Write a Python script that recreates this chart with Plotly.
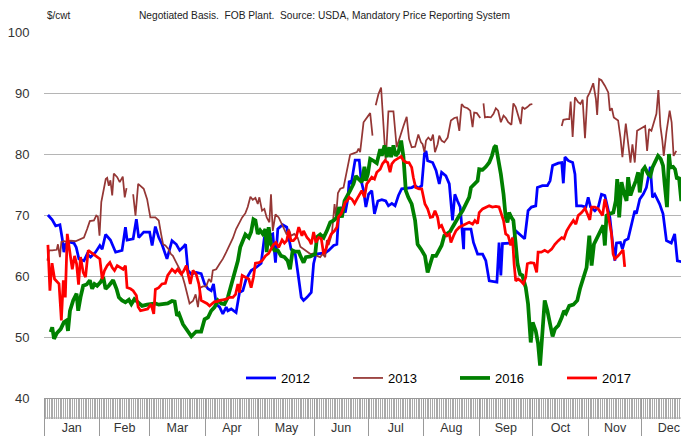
import datetime as dt
import plotly.graph_objects as go

YEAR_START = dt.datetime(2017, 1, 1)

# ---- data: day-of-year and $/cwt ----
days_2012 = [3.2,5.6,7.5,9.9,11.2,12.1,13,14.9,17.7,19,20.5,23.3,25.1,27,29.8,32.2,33.5,35.4,38.1,41,44.6,46.5,47.4,50.8,52.6,53.9,56.7,60,61.4,63.2,65.1,66.9,69.7,72.5,74.9,76.8,78.6,80.1,81.4,83.3,86,88.8,90.7,92.6,94.4,95.7,97.2,99.1,100.9,102.8,103.7,105.6,108.3,110.2,112.1,113.9,116.7,119.5,122.3,124.1,126.9,128.8,130.3,131.6,134.3,136.6,139,141.4,143.3,144.7,146,147.9,150.3,151.6,152.9,155.3,158.1,160,162.8,164.6,165.5,167.4,169.3,170.7,171.5,172.6,173.9,174.8,177.1,178.2,179.5,180.8,182.3,184.1,185.6,187.5,189.7,191.9,193.4,195.3,197.1,199,200.8,203.6,206.4,208.3,210.1,212,213.5,214.4,215.3,218.1,220,221.8,223.1,225.5,227.4,229.2,230.5,232,233.5,235.4,235.7,237.6,239.5,240.9,243.2,246,247.8,249.7,251.5,254,255.2,256.2,257.1,260.3,262.7,264.5,267.3,269.5,271.4,273.3,275.7,276.6,279.4,282.2,283.7,285.1,288.3,290.2,291.1,292,293.9,296.3,297.6,298.5,301.3,303.7,305,306.3,308.7,310.6,312.4,314.3,315.8,317.1,318.6,319.9,320.8,323,324.1,325.4,327.3,329.2,331,331.9,333.8,335.7,337.5,339.7,340.9,342.2,344.9,346.8,348.7,351.4,353.3,354.8,357.9,360.4]
vals_2012 = [70.0,69.2,68.2,68.4,66.1,63.9,65.2,65.6,65.4,64.7,62.8,62.5,63.6,63.1,63.9,65.0,64.4,66.8,65.9,63.9,64.2,68.0,65.9,66.1,69.3,66.3,67.2,67.2,65.0,68.1,66.3,65.2,62.8,65.8,65.2,64.2,64.7,65.2,60.9,60.3,60.6,60.4,58.7,57.9,57.6,58.7,55.4,54.9,53.8,54.9,54.3,54.6,54.0,57.3,57.6,59.5,60.9,61.4,62.1,66.3,66.6,66.9,62.2,67.7,68.4,68.0,64.4,63.5,59.5,56.5,56.0,56.5,57.3,62.0,63.6,63.7,63.8,64.2,65.0,65.2,69.6,71.3,70.4,72.6,75.6,75.1,77.8,79.0,79.0,75.6,74.0,71.3,73.4,74.0,70.2,72.3,72.5,72.3,71.5,71.9,71.5,73.2,74.3,74.4,74.5,74.8,74.4,74.8,80.0,80.5,78.9,78.6,77.3,75.1,77.0,76.4,75.1,69.1,73.4,72.3,71.3,64.4,67.7,67.7,67.7,65.5,63.6,63.6,62.5,59.2,59.1,59.0,65.5,60.1,65.3,65.3,65.4,67.4,66.6,66.1,70.7,71.3,71.5,74.5,74.8,74.8,75.6,78.1,78.5,78.6,75.2,79.5,78.9,78.6,76.7,71.5,71.5,71.3,72.9,71.3,70.7,71.3,73.4,73.2,71.3,69.6,65.5,62.5,65.4,65.5,64.4,65.8,66.1,68.3,70.7,70.2,72.6,73.4,74.5,77.9,72.9,73.4,71.8,70.2,65.8,65.4,66.9,62.5,62.3,62.3]

days_2013 = [2.9,3.8,5.6,8.1,8.8,9.9,10.7,12.1,14,15.9,18.6,21.4,23.3,25.1,26.6,28.9,30.2,31.1,32,33,34.4,35.5,36.3,37.2,38.1,39.1,40,41.9,43.3,45,46.1,47.1,49,50.8,52.1,53.6,54.9,56.7,58.6,60.4,63.2,65.1,66.4,67.5,68.8,70.6,71.9,73,74.9,77.7,79.6,81.4,82.3,84.2,85.7,87,88.3,89.8,91.6,93.1,94.4,95.3,97.2,99.1,100.9,102.8,104.6,106.5,108.3,110.2,111.7,113.5,114.8,116.3,117.6,119.1,120.4,121.3,122.8,124.1,125.4,126.9,127.8,128.8,130.3,132.1,134,135.3,136.6,137.7,139,140.8,142.7,144.2,147,149.8,151.6,153.5,155.3,156.6,158.1,159,160,161.8,163.3,164.1,165.2,166.5,168.3,169.3,170.7,172,173.9,175.8,176.7,177.6,179.5,181.3,183.2,184.5,185.4,186.3,187.8,189.3,190.6,191.9,193.4,196.2,198,200.5,201.8,203.6,204.9,206.4,208.3,210.1,211.6,212.5,213.5,214.4,215.7,217.2,218.3,219.4,220.9,221.8,223.1,224.6,226.5,228.3,230.2,231.7,233,234.3,235.7,237.6,239.1,240.4,241.3,242.8,244.7,245.6,246.5,247.3,248.7,250.6,252.1,253.4,254.7,256.2,257.7,259,260.3,261.4,262.1,263.2,264.5,265.8,267.3,268.2,269.5,271,272.5,273.8,282,290.2,291.1,293,294.4,295.2,296.3,297.6,299.4,300.7,301.9,303.2,304.5,305.9,307.8,309.3,310,311.1,312.4,314.3,316.2,317.1,318.2,319.3,321.7,323,324.1,326,327.3,328.6,329.7,331,332.3,333.8,335.7,336.8,337.9,339,340.3,341.6,343.1,344.2,345.3,346.4,347.2,348.7,350.5,351.6,352.7,354.2,355.2,356.1,357.6,358.9,360.4]
vals_2013 = [62.5,64.2,64.2,64.3,65.2,63.1,65.6,65.7,65.6,65.8,65.7,66.1,66.3,67.7,69.0,69.1,69.9,69.7,66.6,72.1,74.0,75.9,76.1,74.8,75.7,73.2,76.8,76.2,75.4,76.3,72.9,74.4,None,73.4,69.9,75.1,74.8,74.3,72.6,69.6,69.6,69.1,66.9,65.2,65.0,64.4,63.6,63.3,62.2,60.6,58.7,56.8,55.5,55.9,57.0,54.9,58.1,58.3,58.3,59.5,59.0,60.9,61.1,62.0,62.8,63.9,65.0,66.2,67.7,68.8,69.6,70.3,71.3,73.0,72.5,72.8,71.8,72.9,70.7,71.0,69.6,68.8,73.4,67.4,70.1,69.6,68.5,67.7,66.8,67.7,66.6,66.9,66.3,64.8,64.2,63.6,63.7,63.3,63.1,63.6,63.1,65.9,65.1,66.9,71.8,69.6,73.6,74.3,74.5,75.9,78.1,79.9,80.1,80.3,80.9,80.3,85.2,86.0,86.7,83.0,None,88.0,89.8,90.9,85.4,78.9,87.0,87.0,81.1,83.6,84.6,86.1,82.5,81.1,81.2,83.2,81.9,81.6,80.3,82.2,82.7,82.2,83.2,80.3,81.6,83.0,82.2,81.9,82.7,85.5,85.9,86.0,83.8,88.2,87.7,87.5,87.1,84.4,86.8,86.7,85.9,None,88.3,86.0,86.1,86.0,86.6,87.5,87.1,85.2,86.3,85.9,85.2,84.9,84.8,88.3,87.7,86.4,84.9,87.7,87.4,87.7,88.1,88.2,None,84.6,85.6,85.7,85.7,88.6,82.8,89.3,88.5,88.2,88.9,82.6,89.3,90.1,91.6,89.0,86.4,92.3,92.1,91.2,90.1,87.1,87.5,86.0,85.5,82.7,79.5,85.0,81.6,78.6,81.6,78.6,83.8,84.1,84.4,84.6,80.5,84.1,83.8,85.2,86.6,90.5,84.6,82.2,79.7,83.6,87.1,85.2,79.7,80.5,None,76.2,73.7,75.4,71.3]

days_2016 = [4.7,5.6,6.6,8.1,10.3,12.1,13.6,14.4,15.5,17.3,19.2,20.1,21.4,22.9,24.8,26.6,27.9,29.2,30.7,32.6,34.1,35.4,37.2,39.6,41.5,42.8,44.6,46.5,48.4,49.8,51.5,53.4,55.8,58.6,60.8,63.2,65.1,67.9,70.1,72.5,74,75.3,76.4,78.6,81.4,83.3,84.6,86,88.8,90.7,92.6,94.4,96.3,98.1,100,101.8,103.7,105.6,107.4,109.3,110.6,112.1,113.5,115.4,116.7,118,119.1,120.4,121.7,123.2,124.7,125.4,126.5,127.8,129.7,131.6,133.4,135.3,137.1,138.4,139.9,141.4,143.3,144.2,146,147.3,149.8,152.5,153.5,155.3,157.2,159,160.9,162.8,164.6,165.9,167.4,168.9,170.2,172,173.9,175.2,176.7,177.6,178.5,180,180.8,181.9,183.2,185,186.9,188.8,189.7,191.2,192.5,193.8,194.9,196.2,197.5,199,200.5,201.8,203.1,204.5,206.4,208.3,209.7,211.6,213.8,215.3,216.8,218.1,220,221.8,223.1,224.6,226.1,227.9,229.2,231.1,233,234.8,236.7,238.5,239.5,241.3,243.2,244.1,246,247.8,249.7,251.2,252.5,253.4,254.7,256.2,257.7,258.9,259.9,260.8,262.1,263.2,264.5,265.5,266.9,268.2,270.1,271.4,272.9,274,275.7,277,278.1,279.4,280.7,282.2,283.3,285.1,286.4,288.3,290.2,291.5,292.6,294.4,296.7,298.9,300.4,302.2,304.1,305.6,306.9,308.2,309.7,311.5,313.4,314.3,315.2,317.1,319,320.4,321.2,322.3,323.6,324.9,326.4,327.3,328.6,330.1,331.6,332.9,333.8,335.3,336.6,338.4,339.7,340.9,342.7,344,345.5,346.8,347.7,349,350.1,350.9,352.4,353.5,354.6,355.7,357,358.3,360.4]
vals_2016 = [50.8,51.6,49.7,50.6,51.3,52.4,52.7,51.0,54.3,56.0,57.1,54.3,56.5,58.4,58.6,59.3,57.9,58.7,58.4,59.0,59.8,57.9,58.4,59.3,57.9,56.5,56.0,55.7,56.1,55.4,56.2,55.7,55.1,55.3,55.4,55.5,55.3,55.4,55.5,55.9,55.8,53.5,53.8,52.1,50.8,50.1,50.5,50.9,50.9,52.9,53.2,54.3,54.9,56.0,55.5,55.4,56.5,58.4,60.6,62.5,64.7,65.8,66.8,66.3,67.2,69.3,69.1,66.9,67.5,66.9,67.7,63.9,68.0,65.2,64.2,64.2,63.3,63.1,62.5,61.1,64.2,64.0,64.0,63.3,62.2,63.1,63.2,63.6,66.4,66.8,66.3,67.4,68.8,69.1,69.6,71.3,69.6,72.3,72.9,74.0,75.1,76.4,75.9,75.6,75.4,77.9,75.6,76.7,79.2,78.9,78.5,80.8,79.7,81.4,79.5,81.1,79.5,81.4,79.7,80.3,82.2,79.5,74.0,72.9,71.8,69.1,65.2,64.4,63.3,60.6,62.0,63.3,63.3,64.2,65.0,66.6,66.9,67.3,68.0,69.1,69.9,70.7,71.8,72.9,74.5,75.1,75.6,77.5,77.4,77.9,78.6,79.7,81.1,81.4,79.5,76.7,73.4,69.6,68.8,70.4,69.6,69.1,65.2,62.0,60.3,60.1,58.1,55.4,49.1,52.4,51.0,48.9,45.3,49.9,56.0,54.3,52.7,50.1,51.3,51.9,53.2,54.3,53.9,55.1,55.3,56.0,57.9,59.5,61.4,66.6,61.7,65.2,66.1,67.2,68.3,65.0,69.9,70.2,70.4,72.3,75.9,69.6,75.4,73.7,72.3,76.2,73.2,74.5,75.6,77.0,73.7,77.3,77.8,76.7,76.4,77.8,78.9,79.7,79.2,78.1,75.1,71.3,80.0,77.8,77.9,77.5,75.9,76.2,72.3,74.5,74.8]

days_2017 = [3.2,4.3,5.5,6.9,9.4,10.7,11.8,12.9,14,15.5,16.8,18.1,19.2,20.3,21.4,22.9,24.2,25.7,27,28.5,30.3,32.2,33.5,34.8,36.3,37.8,39.1,40.4,41.9,43.3,45.2,46.5,47.4,49.3,50.8,52.6,53.6,54.9,56.7,58.9,60.8,62.3,63.2,65.1,66.9,68.8,70.1,72.5,74.3,75.6,77.7,79,80.5,81.4,82.7,84.2,86,87.5,88.8,90.7,92,93.5,95,96.3,97.6,99.1,100.9,102.8,104.6,106.5,108,109.3,110.2,111.7,113.5,115.4,116.7,118,119.1,121,122.8,124.7,126.5,127.8,129.1,130.6,132.1,134,135.3,136.6,137.7,139,140.3,141.8,143.3,145.1,146,147.9,149.2,150.3,151.6,152.9,154.4,155.9,157.2,158.5,160,161.5,163.3,164.6,165.5,167,168.3,169.3,170.2,171.5,173,174.5,175.8,177.1,178.5,180,181.3,182.6,184.1,185.6,186.9,188.8,190.1,191.5,193,194.3,195.3,196.7,198.6,200.5,201.8,203.6,204.9,206.4,207.3,208.6,210.5,212,213.8,215.3,216.8,218.1,219.4,220.9,221.8,223.1,224.6,226.1,227.4,228.3,229.8,231.1,233,234.8,236.7,238.5,240.4,241.7,243.2,244.1,246,247.8,249.7,251.5,253.4,255.2,256.5,257.7,258.9,260.3,261.7,262.7,263.6,264.5,265.8,267.3,268.8,270.1,271,272.9,274.7,276.2,277,278.8,280.7,282.5,284.6,286.4,288.3,290.2,291.5,293,294.8,296.7,298.1,299.4,301.3,303.2,304.5,305.9,306.9,308.7,310.6,311.9,313,314.3,315.6,316.7,318,318.9,319.9,321.7,323,324.5,325.4]
vals_2017 = [65.1,57.6,62.1,59.5,58.7,52.7,59.3,56.5,66.9,63.3,61.1,63.3,62.0,58.6,63.1,60.6,59.8,64.2,63.9,63.6,63.1,62.8,59.5,60.9,61.7,62.2,61.4,60.9,61.7,61.4,61.1,61.7,58.1,57.9,57.6,56.8,54.9,54.3,54.4,54.6,55.4,53.8,57.8,58.1,58.7,58.8,60.1,61.1,60.6,61.1,60.3,60.8,61.7,60.3,58.7,60.9,60.3,58.7,56.0,55.7,55.5,55.1,55.5,55.8,55.8,56.0,56.1,56.2,56.5,56.5,57.0,58.7,57.3,60.1,59.8,59.5,58.1,59.8,62.1,62.2,62.5,63.3,63.7,64.3,65.1,65.5,64.7,65.9,65.4,65.8,67.4,65.8,65.8,66.3,68.0,66.6,67.4,66.3,65.9,65.2,67.2,65.5,66.3,66.1,63.6,64.4,65.9,66.9,67.4,68.0,69.7,70.2,71.3,72.1,72.3,72.9,72.6,71.9,72.6,73.4,74.0,72.9,75.1,75.6,76.2,75.9,77.0,77.5,78.4,78.9,78.6,77.0,78.4,78.9,79.3,79.6,78.9,78.6,78.6,77.8,76.2,74.5,74.3,74.3,71.8,71.0,69.6,69.7,70.7,69.6,68.0,68.3,67.2,66.6,66.9,65.5,66.6,67.4,68.0,68.3,68.5,68.8,68.5,69.1,68.6,70.4,71.0,71.3,71.5,71.3,71.4,71.3,70.2,69.1,66.9,66.6,65.0,66.3,62.0,59.2,59.5,59.2,58.7,59.8,62.0,62.2,62.1,60.6,63.9,63.9,64.2,63.9,64.4,65.2,65.8,66.3,66.1,67.4,68.3,69.1,68.5,69.9,70.4,71.1,70.2,69.2,71.3,71.3,71.0,70.5,69.9,72.6,71.0,69.1,66.9,63.6,62.8,63.3,63.7,64.3,61.5]

series_names = ["2012", "2013", "2016", "2017"]
series_days = [days_2012, days_2013, days_2016, days_2017]
series_vals = [vals_2012, vals_2013, vals_2016, vals_2017]
series_colors = ["#0000FF", "#953735", "#008000", "#FF0000"]
series_widths = [2.75, 1.75, 3.75, 2.75]

y_ticks = [40, 50, 60, 70, 80, 90, 100]

for d, v in zip(series_days, series_vals):
    assert len(d) == len(v), (len(d), len(v))

def to_dates(days):
    return [YEAR_START + dt.timedelta(days=d - 1) for d in days]

fig = go.Figure()
for name, d, v, c, w in zip(series_names, series_days, series_vals, series_colors, series_widths):
    fig.add_trace(go.Scatter(x=to_dates(d), y=v, mode="lines", name=name,
                             line=dict(color=c, width=w), connectgaps=False))

x_end = YEAR_START + dt.timedelta(days=360.3)

# the page body adds an 8px offset, so the figure is 8px smaller and shifted
FIG_W, FIG_H = 681, 428
M_L, M_T, M_B = 36, 24, 38
PLOT_H = FIG_H - M_T - M_B

fig.update_layout(
    template="none",
    width=FIG_W, height=FIG_H,
    margin=dict(l=M_L, r=0, t=M_T, b=M_B, autoexpand=False),
    paper_bgcolor="white", plot_bgcolor="white",
    font=dict(family="Liberation Sans, Arial", color="#222"),
    showlegend=True,
    legend=dict(orientation="h", xref="container", yref="container",
                x=233 / FIG_W, y=(436 - 378) / FIG_H, xanchor="left", yanchor="middle",
                font=dict(size=13, color="#000"),
                bgcolor="rgba(0,0,0,0)", borderwidth=0, entrywidth=62, entrywidthmode="pixels",
                itemwidth=30),
    xaxis=dict(type="date", range=[YEAR_START, x_end], automargin=False,
               tick0=YEAR_START, dtick="M1", tickformat="%b", ticklabelmode="period",
               ticks="outside", ticklen=38, tickcolor="#999", tickwidth=1,
               ticklabelstandoff=-20,
               minor=dict(dtick=86400000, ticks="outside", ticklen=20, tickcolor="#aaa", tickwidth=1, showgrid=False),
               showline=True, linecolor="#999", linewidth=1,
               showgrid=False, zeroline=False,
               tickfont=dict(size=12.5, color="#333")),
    yaxis=dict(range=[40, 100], tickvals=y_ticks, automargin=False,
               showgrid=True, gridcolor="#b5b5b5", gridwidth=1,
               zeroline=False, showline=False,
               ticks="outside", ticklen=11, tickcolor="rgba(0,0,0,0)",
               tickfont=dict(size=13, color="#333")),
    shapes=[dict(type="line", xref="paper", yref="paper", x0=0, x1=1,
                 y0=-20 / PLOT_H, y1=-20 / PLOT_H, line=dict(color="#aaa", width=1))],
    annotations=[
        dict(text="$/cwt", xref="paper", yref="paper", x=1 / 645, y=(398 - 16) / PLOT_H,
             xanchor="left", yanchor="middle", showarrow=False,
             font=dict(size=10, color="#222")),
        dict(text="Negotiated Basis.  FOB Plant.  Source: USDA, Mandatory Price Reporting System",
             xref="paper", yref="paper", x=(137 - 44) / 645, y=(398 - 16) / PLOT_H,
             xanchor="left", yanchor="middle", showarrow=False,
             font=dict(size=10.2, color="#222")),
    ],
)

fig.write_html("out.html")
